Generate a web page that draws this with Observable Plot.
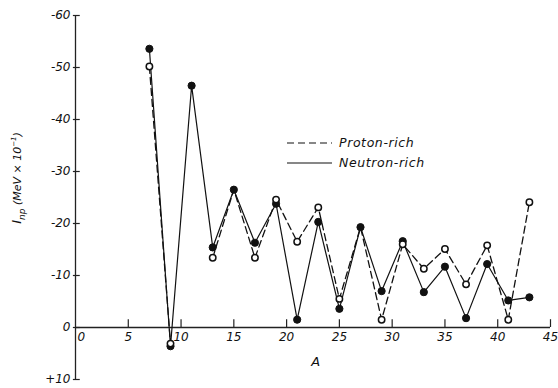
<!DOCTYPE html>
<html>
<head>
<meta charset="utf-8">
<script src="https://cdn.jsdelivr.net/npm/d3@7"></script>
<script src="https://cdn.jsdelivr.net/npm/@observablehq/plot@0.6"></script>
<style>
  html, body { margin: 0; padding: 0; background: #fff; }
  svg { font-family: "DejaVu Sans", sans-serif; }
</style>
</head>
<body>
<div id="chart"></div>
<script>
// Mass number A (odd nuclei)
const massNumbers = [7, 9, 11, 13, 15, 17, 19, 21, 23, 25, 27, 29, 31, 33, 35, 37, 39, 41, 43];
// I_np values (MeV x 10^-1), negative upward
const neutronRich = [-53.6, 3.6, -46.5, -15.4, -26.5, -16.3, -23.8, -1.5, -20.3, -3.6, -19.3, -7.0, -16.6, -6.8, -11.7, -1.8, -12.2, -5.2, -5.8];
const protonRich  = [-50.2, 3.1, null, -13.4, -26.5, -13.4, -24.6, -16.5, -23.1, -5.5, -19.3, -1.5, -16.0, -11.3, -15.1, -8.3, -15.8, -1.5, -24.1];
const xTicks = [0, 5, 10, 15, 20, 25, 30, 35, 40, 45];
const yTicks = [-60, -50, -40, -30, -20, -10, 0, 10];
const seriesNames = ["Proton-rich", "Neutron-rich"];

const rows = massNumbers.map((a, i) => ({A: a, n: neutronRich[i], p: protonRich[i]}));

const chart = Plot.plot({
  width: 558,
  height: 388,
  marginLeft: 75,
  marginRight: 8,
  marginTop: 15,
  marginBottom: 9,
  style: {fontFamily: "DejaVu Sans, sans-serif", fontStyle: "italic", fontSize: "12px", color: "#111", background: "#fff", overflow: "visible"},
  x: {type: "linear", domain: [0, 45], axis: null},
  y: {type: "linear", domain: [10, -60], axis: null},
  marks: [
    // axes lines
    Plot.ruleX([0], {x: d => d, y1: -60, y2: 10, stroke: "#222", strokeWidth: 1.3}),
    Plot.ruleY([0], {y: d => d, x1: 0, x2: 45, stroke: "#222", strokeWidth: 1.3}),
    // y ticks
    Plot.ruleY(yTicks, {y: d => d, x1: -0.2, x2: 0.45, stroke: "#222", strokeWidth: 1.2}),
    Plot.text(yTicks, {x: () => 0, y: d => d, text: d => d > 0 ? "+" + d : String(d), textAnchor: "end", dx: -5, fontSize: 12, fontStyle: "italic", fill: "#111"}),
    // x ticks (upward from the zero line)
    Plot.ruleX(xTicks.filter(d => d > 0), {x: d => d, y1: 0, y2: -1.5, stroke: "#222", strokeWidth: 1.2}),
    Plot.text(xTicks.filter(d => d > 0), {x: d => d, y: () => 0, text: d => String(d), dy: 10, fontSize: 12, fontStyle: "italic", fill: "#111"}),
    Plot.text([0], {x: d => d, y: () => 0, text: d => String(d), dy: 10, dx: 2, textAnchor: "start", fontSize: 12, fontStyle: "italic", fill: "#111"}),
    // lines
    Plot.line(rows, {x: "A", y: "p", stroke: "#111", strokeWidth: 1.3, strokeDasharray: "7,4"}),
    Plot.line(rows, {x: "A", y: "n", stroke: "#111", strokeWidth: 1.2}),
    // dots
    Plot.dot(rows, {x: "A", y: "n", r: 3.6, fill: "#111", stroke: "#111", strokeWidth: 1}),
    Plot.dot(rows.filter(d => d.p != null && d.p !== d.n), {x: "A", y: "p", r: 3.2, fill: "#fff", stroke: "#111", strokeWidth: 1.5})
  ]
});

document.getElementById("chart").appendChild(chart);

const svg = d3.select(chart);
const xs = chart.scale("x"), ys = chart.scale("y");

// x axis title
svg.append("text")
  .attr("x", xs.apply(22.8)).attr("y", ys.apply(0) + 39)
  .attr("text-anchor", "middle")
  .attr("font-size", 13).attr("font-style", "italic").attr("fill", "#111")
  .text("A");

// y axis title
const yl = svg.append("text")
  .attr("transform", "translate(21," + 178 + ") rotate(-90)")
  .attr("text-anchor", "middle")
  .attr("font-size", 11).attr("font-style", "italic").attr("fill", "#111");
yl.append("tspan").attr("font-size", 13).text("I");
yl.append("tspan").attr("dy", 4).attr("font-size", 9).text("np");
yl.append("tspan").attr("dy", -4).text(" (MeV \u00d7 10");
yl.append("tspan").attr("dy", -5).attr("font-size", 7).text("\u22121");
yl.append("tspan").attr("dy", 5).text(")");

// legend
const legend = svg.append("g").attr("text-anchor", "start");
const lx = 287, ly = [143, 163];
seriesNames.forEach((name, i) => {
  legend.append("line")
    .attr("x1", lx).attr("x2", lx + 45).attr("y1", ly[i]).attr("y2", ly[i])
    .attr("stroke", "#111").attr("stroke-width", 1.2)
    .attr("stroke-dasharray", i === 0 ? "7,4" : null);
  legend.append("text")
    .attr("x", lx + 52).attr("y", ly[i] + 4)
    .attr("text-anchor", "start")
    .attr("font-size", 12.5).attr("font-style", "italic").attr("fill", "#111")
    .attr("letter-spacing", 0.6)
    .text(name);
});
</script>
</body>
</html>
